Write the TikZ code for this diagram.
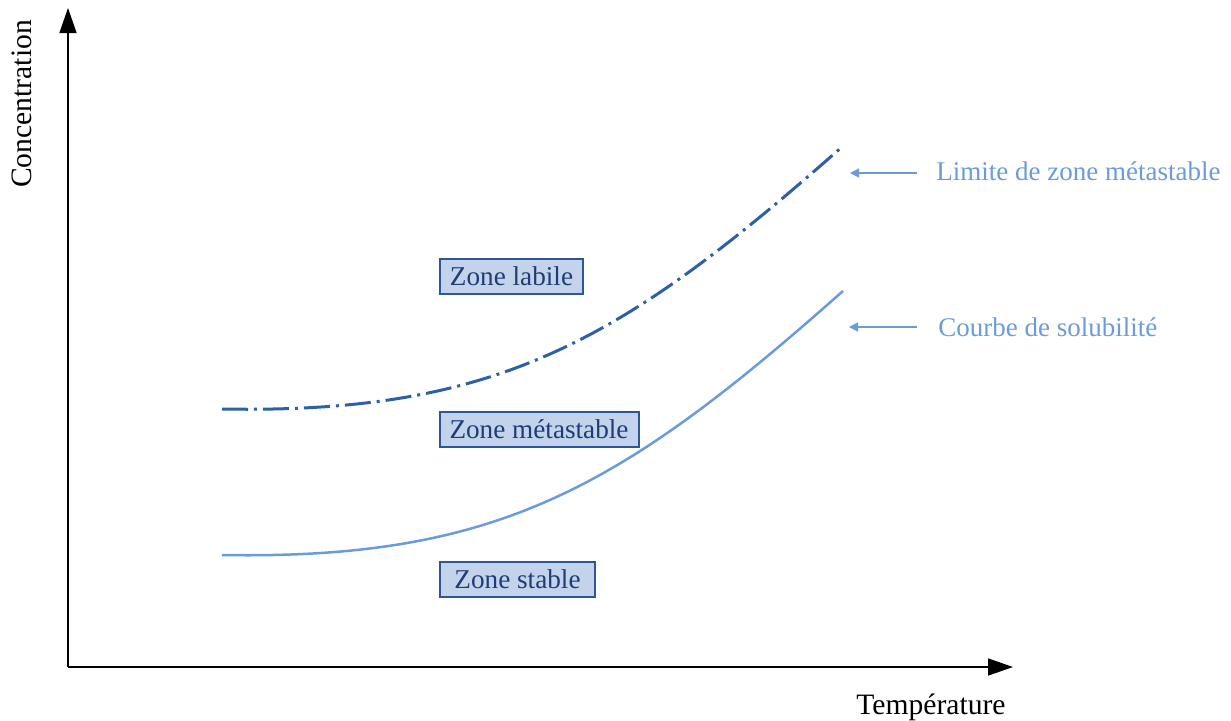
\documentclass[tikz,border=0pt]{standalone}
\usepackage{fontspec}
\setmainfont{Liberation Serif}
\usetikzlibrary{arrows.meta}
\definecolor{zonefill}{HTML}{C3D3EC}
\definecolor{zoneline}{HTML}{2F5597}
\definecolor{zonetext}{HTML}{1F3D73}
\definecolor{limitblue}{HTML}{2E60A8}
\definecolor{solublue}{HTML}{6A9BDA}

\begin{document}
\begin{tikzpicture}[x=0.5pt, y=-0.5pt,
    zone/.style={draw=zoneline, line width=1pt, fill=zonefill, text=zonetext,
      font=\fontsize{13.6}{16}\selectfont, minimum height=17.5pt, inner xsep=5pt},
    legend/.style={text=solublue, font=\fontsize{13.5}{16}\selectfont, anchor=west, inner sep=0pt},
    axislabel/.style={font=\fontsize{14.8}{17}\selectfont},
    pointer/.style={draw=solublue, line width=0.6pt, -{Triangle[length=4.5pt, width=4.5pt]}}]

    \useasboundingbox (0,0) rectangle (1231,720);

    % axes
    \coordinate (O) at (68,667);
    \coordinate (Ytop) at (68,8);
    \coordinate (Xend) at (1013,667);
    \draw[line width=0.75pt, -{Triangle[length=12.5pt, width=8.5pt]}] (O) -- (Ytop);
    \draw[line width=0.75pt, -{Triangle[length=12.5pt, width=8.5pt]}] (O) -- (Xend);
    \node[axislabel, rotate=90] (conc) at (22,104) {Concentration};
    \node[axislabel] (temp) at (931,707) {Température};

    % courbes
    \coordinate (L0) at (222,409);
    \coordinate (L1) at (843,146);
    \coordinate (S0) at (222,555);
    \coordinate (S1) at (843,291);
    \draw[limitblue, line width=1.5pt, dash pattern=on 13pt off 3pt on 1.5pt off 3pt]
      (L0) .. controls (500,414) and (623,340) .. (L1);
    \draw[solublue, line width=1.25pt]
      (S0) .. controls (500,560) and (623,486) .. (S1);

    % zones
    \node[zone] (labile) at (511.5,276.5) {Zone labile};
    \node[zone] (meta) at (539,429.5) {Zone métastable};
    \node[zone, minimum width=77.5pt] (stable) at (517.5,579) {Zone stable};

    % legendes
    \node[legend] (limite) at (936,171) {Limite de zone métastable};
    \node[legend] (courbe) at (938,327) {Courbe de solubilité};
    \coordinate (limtip) at (850,173);
    \coordinate (soltip) at (849,327);
    \draw[pointer] (917,173) -- (limtip);
    \draw[pointer] (917,327) -- (soltip);

\end{tikzpicture}
\end{document}
